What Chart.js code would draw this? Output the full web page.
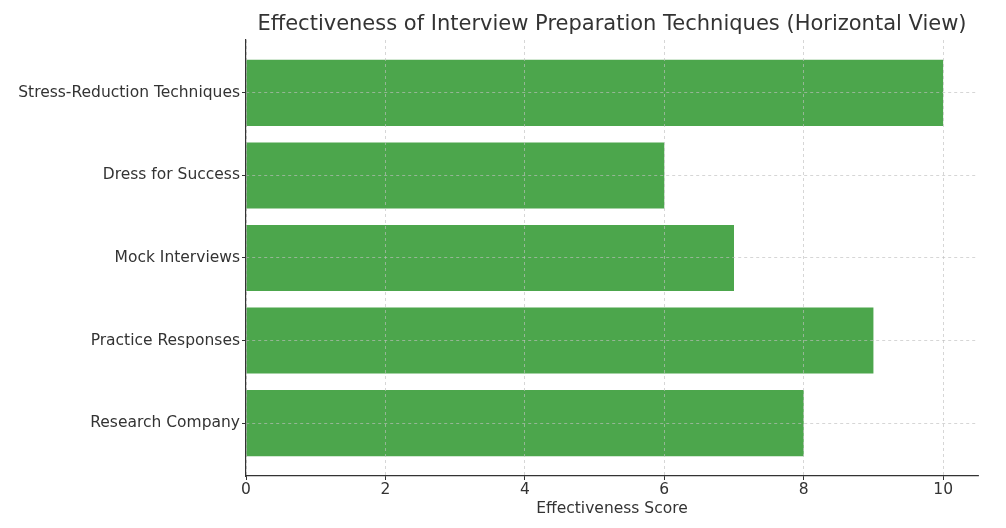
<!DOCTYPE html>
<html>
<head>
<meta charset="utf-8">
<script src="https://cdn.jsdelivr.net/npm/chart.js@4/dist/chart.umd.min.js"></script>
<style>
  html, body { margin: 0; padding: 0; background: #fff; }
  #wrap { width: 1006px; height: 528px; }
</style>
</head>
<body>
<div id="wrap"><canvas id="prepChart" width="1006" height="528"></canvas></div>
<script>
// categories listed bottom to top, like the picture
const techniques = ['Research Company', 'Practice Responses', 'Mock Interviews', 'Dress for Success', 'Stress-Reduction Techniques']
const scores = [8, 9, 7, 6, 10]
const scoreTicks = [0, 2, 4, 6, 8, 10]
const chartTitle = 'Effectiveness of Interview Preparation Techniques (Horizontal View)'

const textColor = '#333333'
const gridColor = 'rgba(190,190,190,0.8)'

// title centred over the plot area, the way the original plot has it
const plotTitle = {
  id: 'plotTitle',
  afterDraw (chart) {
    const { ctx, chartArea } = chart
    ctx.save()
    ctx.fillStyle = textColor
    ctx.font = '21px "DejaVu Sans"'
    ctx.textAlign = 'center'
    ctx.textBaseline = 'middle'
    ctx.fillText(chartTitle, (chartArea.left + chartArea.right) / 2, 25)
    ctx.restore()
  }
}

const ctx = document.getElementById('prepChart').getContext('2d')
const chart = new Chart(ctx, {
  type: 'bar',
  data: {
    datasets: [{
      label: 'Effectiveness',
      data: techniques.map((t, i) => ({ x: scores[i], y: i })),
      backgroundColor: 'rgba(0, 128, 0, 0.7)',
      borderWidth: 0,
      barPercentage: 0.8,
      categoryPercentage: 1
    }]
  },
  plugins: [plotTitle],
  options: {
    indexAxis: 'y',
    responsive: false,
    animation: false,
    layout: { padding: { left: 0, right: 28, top: 40, bottom: 0 } },
    plugins: {
      legend: { display: false },
      tooltip: { enabled: false },
      title: { display: false }
    },
    scales: {
      x: {
        type: 'linear',
        min: 0,
        max: 10.5,
        offset: false,
        afterBuildTicks: (scale) => { scale.ticks = scoreTicks.map(v => ({ value: v })) },
        afterFit: (scale) => { scale.height = 52 },
        ticks: {
          color: textColor,
          font: { family: 'DejaVu Sans', size: 15.5 },
          padding: 1,
          maxRotation: 0
        },
        grid: {
          z: 1,
          offset: false,
          color: gridColor,
          lineWidth: 0.8,
          tickLength: 4,
          tickWidth: 1,
          tickColor: textColor,
          tickBorderDash: []
        },
        border: { display: true, color: textColor, width: 1.2, dash: [3, 3], z: 2 },
        title: {
          display: true,
          text: 'Effectiveness Score',
          color: textColor,
          font: { family: 'DejaVu Sans', size: 15.5 },
          padding: { top: 0, bottom: 10 }
        }
      },
      y: {
        type: 'linear',
        min: -0.64,
        max: 4.64,
        offset: false,
        afterBuildTicks: (scale) => { scale.ticks = techniques.map((t, i) => ({ value: i })) },
        afterFit: (scale) => { scale.width = 246 },
        ticks: {
          color: textColor,
          font: { family: 'DejaVu Sans', size: 15.5 },
          padding: 2,
          callback: (v) => techniques[v] || ''
        },
        grid: {
          z: 1,
          offset: false,
          color: gridColor,
          lineWidth: 0.8,
          tickLength: 4,
          tickWidth: 1,
          tickColor: textColor,
          tickBorderDash: []
        },
        border: { display: true, color: textColor, width: 1.2, dash: [3, 3], z: 2 }
      }
    }
  }
})
</script>
</body>
</html>
